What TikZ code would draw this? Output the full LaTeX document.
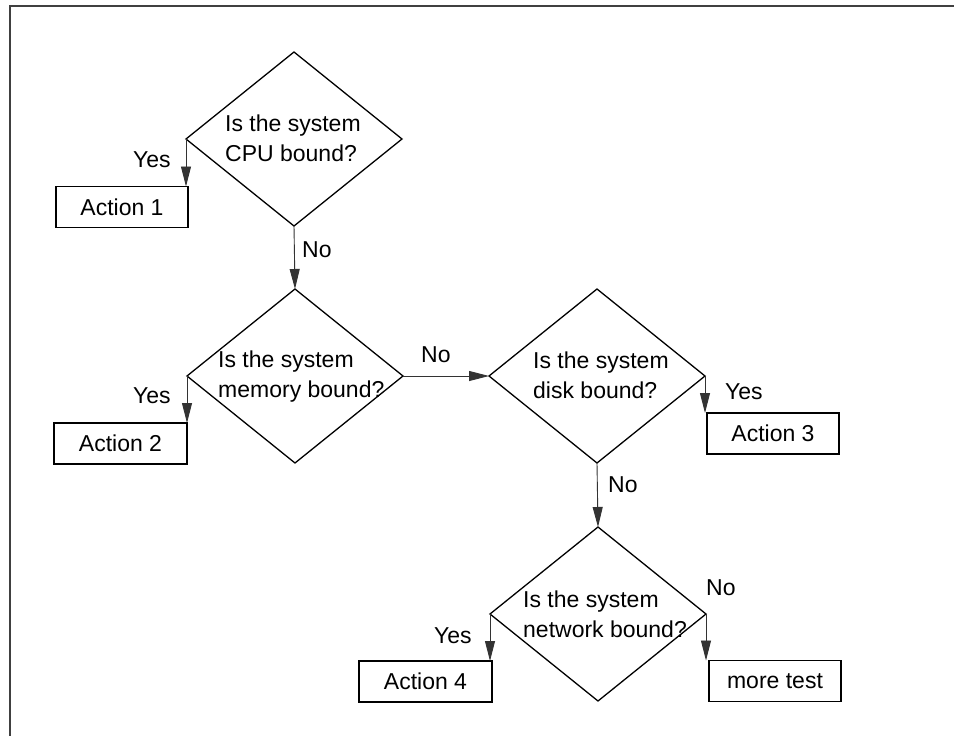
\documentclass[tikz,border=0pt]{standalone}
\usepackage{fontspec}
\setmainfont{Liberation Sans}
\usetikzlibrary{shapes.geometric,arrows.meta}
\begin{document}
\begin{tikzpicture}[x=1pt,y=-1pt,
  every node/.style={font=\fontsize{23}{30}\selectfont},
  dec/.style={shape=diamond, draw, line width=1.3pt, minimum width=216pt, minimum height=174pt, inner sep=0pt, outer sep=0pt},
  act/.style={draw, line width=1.3pt, minimum height=41pt, inner sep=0pt, outer sep=0pt},
  qtext/.style={anchor=base west, inner sep=0pt},
  lbl/.style={anchor=base west, inner sep=0pt},
  conn/.style={line width=0.9pt, draw=black!80, -{Triangle[length=20pt,width=10pt]}},
  frameline/.style={line width=1.6pt, draw=black!75}
]
\useasboundingbox (0,0) rectangle (954,736);
\fill[white] (0,0) rectangle (954,736);
\coordinate (fA) at (10,736);
\coordinate (fB) at (10,6);
\coordinate (fC) at (954,6);
\draw[frameline] (fA) -- (fB) -- (fC);

% decisions
\node[dec] (cpu)  at (294,139) {};
\node[dec] (mem)  at (295,376) {};
\node[dec] (disk) at (597,376) {};
\node[dec] (net)  at (598,614) {};

\node[qtext] (cpuq)  at (225,131) {\begin{tabular}[t]{@{}l@{}}Is the system\\CPU bound?\end{tabular}};
\node[qtext] (memq)  at (218,367) {\begin{tabular}[t]{@{}l@{}}Is the system\\memory bound?\end{tabular}};
\node[qtext] (diskq) at (533,368) {\begin{tabular}[t]{@{}l@{}}Is the system\\disk bound?\end{tabular}};
\node[qtext] (netq)  at (523,607) {\begin{tabular}[t]{@{}l@{}}Is the system\\network bound?\end{tabular}};

% actions
\node[act, minimum width=132pt] (a1) at (122,207) {Action 1};
\node[act, minimum width=133pt] (a2) at (120.5,443.5) {Action 2};
\node[act, minimum width=132pt] (a3) at (773,433.5) {Action 3};
\node[act, minimum width=133pt] (a4) at (425.5,681.5) {Action 4};
\node[act, minimum width=132pt] (mt) at (775,681) {more test};

% connectors
\draw[conn] (cpu.west) -- (cpu.west |- a1.north);
\draw[conn] (cpu.south) -- (mem.north);
\draw[conn] (mem.west) -- (mem.west |- a2.north);
\draw[conn] (mem.east) -- (disk.west);
\draw[conn] (disk.east) -- (disk.east |- a3.north);
\draw[conn] (disk.south) -- (net.north);
\draw[conn] (net.west) -- (net.west |- a4.north);
\draw[conn] (net.east) -- (net.east |- mt.north);

% labels
\node[lbl] (y1) at (133,167) {Yes};
\node[lbl] (n1) at (302,257) {No};
\node[lbl] (y2) at (133,403) {Yes};
\node[lbl] (n2) at (421,362) {No};
\node[lbl] (y3) at (725,399) {Yes};
\node[lbl] (n3) at (608,492) {No};
\node[lbl] (y4) at (434,643) {Yes};
\node[lbl] (n4) at (706,595) {No};
\end{tikzpicture}
\end{document}
